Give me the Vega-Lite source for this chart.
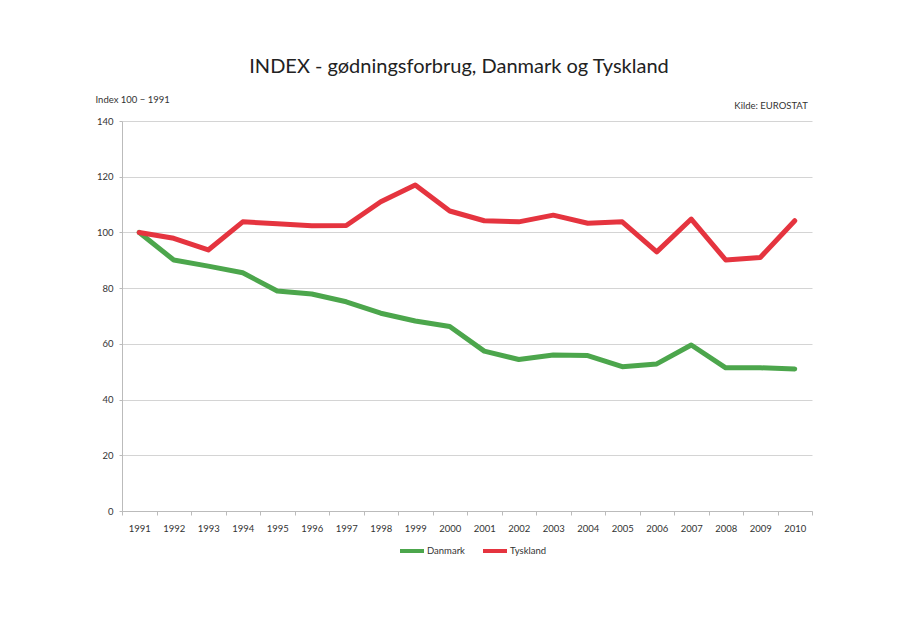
{
  "$schema": "https://vega.github.io/schema/vega-lite/v6.json",
  "width": 690,
  "height": 390,
  "autosize": {"type": "none"},
  "padding": {"left": 122, "top": 121, "right": 95, "bottom": 128},
  "background": "white",
  "config": {
    "font": "Lato",
    "view": {"stroke": null},
    "axis": {"labelFont": "Lato", "titleFont": "Lato", "labelColor": "#333", "titleColor": "#333"}
  },
  "title": {
    "text": "INDEX - gødningsforbrug, Danmark og Tyskland",
    "fontSize": 20,
    "font": "Lato",
    "fontWeight": "normal",
    "color": "#222",
    "anchor": "middle",
    "dx": -8,
    "offset": 17
  },
  "layer": [
    {
      "data": {
        "values": [
          {"year": "1991", "land": "Danmark", "index": 100},
          {"year": "1992", "land": "Danmark", "index": 90.1},
          {"year": "1993", "land": "Danmark", "index": 87.9},
          {"year": "1994", "land": "Danmark", "index": 85.5},
          {"year": "1995", "land": "Danmark", "index": 79},
          {"year": "1996", "land": "Danmark", "index": 77.9},
          {"year": "1997", "land": "Danmark", "index": 75.1},
          {"year": "1998", "land": "Danmark", "index": 71},
          {"year": "1999", "land": "Danmark", "index": 68.2},
          {"year": "2000", "land": "Danmark", "index": 66.2},
          {"year": "2001", "land": "Danmark", "index": 57.4},
          {"year": "2002", "land": "Danmark", "index": 54.4},
          {"year": "2003", "land": "Danmark", "index": 56},
          {"year": "2004", "land": "Danmark", "index": 55.8},
          {"year": "2005", "land": "Danmark", "index": 51.8},
          {"year": "2006", "land": "Danmark", "index": 52.8},
          {"year": "2007", "land": "Danmark", "index": 59.6},
          {"year": "2008", "land": "Danmark", "index": 51.4},
          {"year": "2009", "land": "Danmark", "index": 51.4},
          {"year": "2010", "land": "Danmark", "index": 51},
          {"year": "1991", "land": "Tyskland", "index": 100},
          {"year": "1992", "land": "Tyskland", "index": 97.9},
          {"year": "1993", "land": "Tyskland", "index": 93.7},
          {"year": "1994", "land": "Tyskland", "index": 103.8},
          {"year": "1995", "land": "Tyskland", "index": 103.1},
          {"year": "1996", "land": "Tyskland", "index": 102.4},
          {"year": "1997", "land": "Tyskland", "index": 102.5},
          {"year": "1998", "land": "Tyskland", "index": 111},
          {"year": "1999", "land": "Tyskland", "index": 117},
          {"year": "2000", "land": "Tyskland", "index": 107.7},
          {"year": "2001", "land": "Tyskland", "index": 104.2},
          {"year": "2002", "land": "Tyskland", "index": 103.8},
          {"year": "2003", "land": "Tyskland", "index": 106.2},
          {"year": "2004", "land": "Tyskland", "index": 103.3},
          {"year": "2005", "land": "Tyskland", "index": 103.8},
          {"year": "2006", "land": "Tyskland", "index": 93},
          {"year": "2007", "land": "Tyskland", "index": 104.8},
          {"year": "2008", "land": "Tyskland", "index": 90.1},
          {"year": "2009", "land": "Tyskland", "index": 91},
          {"year": "2010", "land": "Tyskland", "index": 104.2}
        ]
      },
      "mark": {"type": "line", "strokeWidth": 5, "strokeJoin": "round", "strokeCap": "round"},
      "encoding": {
        "x": {
          "field": "year",
          "type": "ordinal",
          "scale": {"type": "band", "paddingInner": 0, "paddingOuter": 0},
          "axis": {
            "title": null,
            "labelAngle": 0,
            "labelFontSize": 9.5,
            "labelPadding": 8,
            "tickBand": "extent",
            "tickSize": 4,
            "tickColor": "#bbb",
            "domainColor": "#bbb",
            "grid": false
          }
        },
        "y": {
          "field": "index",
          "type": "quantitative",
          "scale": {"domain": [0, 140]},
          "axis": {
            "values": [0, 20, 40, 60, 80, 100, 120, 140],
            "title": "Index 100 − 1991",
            "titleAngle": 0,
            "titleAlign": "left",
            "titleBaseline": "middle",
            "titleX": -27,
            "titleY": -22,
            "titleFontSize": 9.5,
            "titleFontWeight": "normal",
            "labelFontSize": 9.5,
            "labelPadding": 6,
            "tickSize": 3,
            "tickColor": "#bbb",
            "domainColor": "#bbb",
            "gridColor": "#d4d4d4",
            "gridWidth": 1
          }
        },
        "color": {
          "field": "land",
          "type": "nominal",
          "scale": {"domain": ["Danmark", "Tyskland"], "range": ["#4CA64C", "#E5343F"]},
          "legend": {
            "title": null,
            "orient": "none",
            "direction": "horizontal",
            "legendX": 276,
            "legendY": 416,
            "symbolType": "stroke",
            "symbolStrokeWidth": 4,
            "symbolSize": 576,
            "labelOffset": 1,
            "labelFontSize": 9.5,
            "labelFont": "Lato",
            "labelColor": "#333",
            "columnPadding": 10
          }
        }
      }
    },
    {
      "data": {"values": [{"label": "Kilde: EUROSTAT"}]},
      "mark": {"type": "text", "align": "right", "baseline": "middle", "fontSize": 9.5, "font": "Lato", "color": "#333", "dx": 13, "dy": -15},
      "encoding": {
        "text": {"field": "label"},
        "x": {"datum": "2010", "type": "ordinal"},
        "y": {"datum": 140, "type": "quantitative"}
      }
    }
  ]
}
